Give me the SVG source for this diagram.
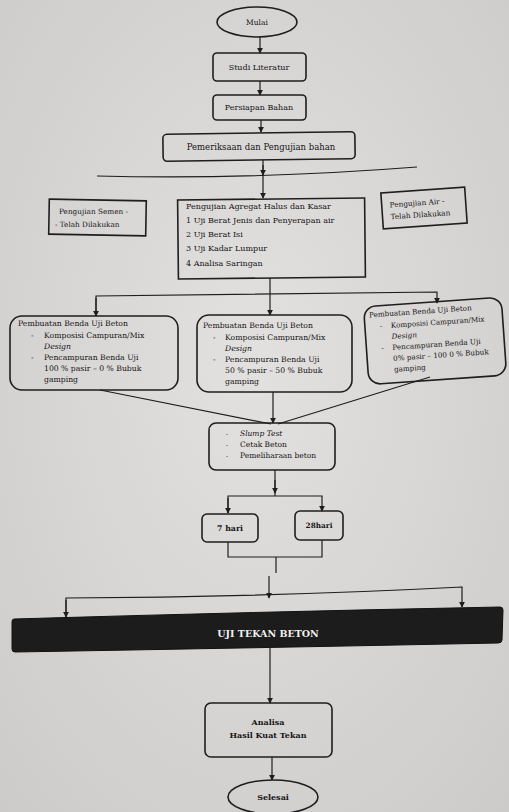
<svg xmlns="http://www.w3.org/2000/svg" width="509" height="812" viewBox="0 0 509 812">
<defs>
<marker id="ah" viewBox="0 0 8 8" refX="7" refY="4" markerWidth="6" markerHeight="6" orient="auto" markerUnits="userSpaceOnUse"><path d="M0,0 L8,4 L0,8 Z" fill="#1e1e1e"/></marker>
<radialGradient id="bg" cx="0.5" cy="0.45" r="0.75"><stop offset="0" stop-color="#e3e1e0"/><stop offset="1" stop-color="#cdcaca"/></radialGradient>
</defs>
<style>
.b{fill:none;stroke:#1e1e1e;stroke-width:1.6}
.c{fill:none;stroke:#1e1e1e;stroke-width:1.2}
.t{font-family:"DejaVu Serif","Liberation Serif",serif;font-size:7.5px;fill:#151515}
.m{text-anchor:middle}
.k{font-weight:bold}
.i{font-style:italic}
.s{font-size:7.7px}
.r{font-size:7.2px}
.g{font-size:8px}
</style>
<rect width="509" height="812" fill="url(#bg)"/>

<g id="connectors">
<path class="c" d="M260,37 V53" marker-end="url(#ah)"/>
<path class="c" d="M260,81 V95" marker-end="url(#ah)"/>
<path class="c" d="M261,120 V132" marker-end="url(#ah)"/>
<path class="c" d="M263,160 V198" marker-end="url(#ah)"/>
<path class="c" d="M263,165 V175" marker-end="url(#ah)"/>
<path class="c" d="M97,176 Q250,180 417,167"/>
<path class="c" d="M270,278 V294"/>
<path class="c" d="M96,316 V296 Q270,294 437,292 V303" marker-end="url(#ah)"/>
<path class="c" d="M96,298 V316" marker-end="url(#ah)"/>
<path class="c" d="M270,294 V315" marker-end="url(#ah)"/>
<path class="c" d="M100,390 L271,424"/>
<path class="c" d="M430,377 L278,424"/>
<path class="c" d="M273,392 V423" marker-end="url(#ah)"/>
<path class="c" d="M275,470 V496"/>
<path class="c" d="M275,480 V493" marker-end="url(#ah)"/>
<path class="c" d="M228,513 V496 H322 V511" marker-end="url(#ah)"/>
<path class="c" d="M228,498 V513" marker-end="url(#ah)"/>
<path class="c" d="M228,542 V557 H322 V540"/>
<path class="c" d="M276,557 V573"/>
<path class="c" d="M269,576 V598" marker-end="url(#ah)"/>
<path class="c" d="M66,617 V598 Q270,597 462,587 V607" marker-end="url(#ah)"/>
<path class="c" d="M66,600 V617" marker-end="url(#ah)"/>
<path class="c" d="M270,648 V703" marker-end="url(#ah)"/>
<path class="c" d="M272,757 V780" marker-end="url(#ah)"/>
</g>

<g id="mulai">
<ellipse class="b" cx="257" cy="22" rx="40" ry="15"/>
<text class="t m" x="257" y="25">Mulai</text>
</g>
<g id="studi">
<rect class="b" x="213" y="53" width="93" height="28" rx="4"/>
<text class="t m g" x="259" y="70">Studi Literatur</text>
</g>
<g id="persiapan">
<rect class="b" x="213" y="95" width="93" height="25" rx="4"/>
<text class="t m g" x="259" y="110">Persiapan Bahan</text>
</g>
<g id="pemeriksaan">
<rect class="b" x="163" y="133" width="192" height="27" rx="4" transform="rotate(-0.8 259 146)"/>
<text class="t m" x="261" y="150" style="font-size:8.5px">Pemeriksaan dan Pengujian bahan</text>
</g>
<g id="semen">
<rect class="b" x="49" y="200" width="97" height="35" transform="rotate(1 97 217)"/>
<text class="t" x="59" y="214" style="font-size:7.3px">Pengujian Semen -</text>
<text class="t" x="55" y="227" style="font-size:7.3px">- Telah Dilakukan</text>
</g>
<g id="agregat">
<rect class="b" x="178" y="199" width="187" height="79" transform="rotate(-0.6 271 238)"/>
<text class="t g" x="186" y="209">Pengujian Agregat Halus dan Kasar</text>
<text class="t g" x="186" y="223">1  Uji Berat Jenis dan Penyerapan air</text>
<text class="t g" x="186" y="237">2  Uji Berat Isi</text>
<text class="t g" x="186" y="251">3  Uji Kadar Lumpur</text>
<text class="t g" x="186" y="266">4  Analisa Saringan</text>
</g>
<g id="air" transform="rotate(-4 424 208)">
<rect class="b" x="382" y="190" width="84" height="36"/>
<text class="t" x="390" y="205" style="font-size:7.3px">Pengujian Air -</text>
<text class="t" x="390" y="217" style="font-size:7.3px">Telah Dilakukan</text>
</g>
<g id="benda1">
<rect class="b" x="10" y="316" width="168" height="74" rx="12"/>
<text class="t s" x="18" y="326">Pembuatan Benda Uji Beton</text>
<text class="t s" x="31" y="338">-</text>
<text class="t s" x="44" y="338">Komposisi Campuran/Mix</text>
<text class="t s i" x="44" y="349">Design</text>
<text class="t s" x="31" y="360">-</text>
<text class="t s" x="44" y="360">Pencampuran Benda Uji</text>
<text class="t s" x="44" y="371">100 % pasir – 0 % Bubuk</text>
<text class="t s" x="44" y="382">gamping</text>
</g>
<g id="benda2">
<rect class="b" x="197" y="315" width="155" height="77" rx="12"/>
<text class="t s" x="203" y="328">Pembuatan Benda Uji Beton</text>
<text class="t s" x="213" y="340">-</text>
<text class="t s" x="225" y="340">Komposisi Campuran/Mix</text>
<text class="t s i" x="225" y="351">Design</text>
<text class="t s" x="213" y="362">-</text>
<text class="t s" x="225" y="362">Pencampuran Benda Uji</text>
<text class="t s" x="225" y="373">50 % pasir – 50 % Bubuk</text>
<text class="t s" x="225" y="384">gamping</text>
</g>
<g id="benda3" transform="rotate(-4 434 340)">
<rect class="b" x="366" y="302" width="138" height="78" rx="12"/>
<text class="t r" x="371" y="313">Pembuatan Benda Uji Beton</text>
<text class="t r" x="381" y="325">-</text>
<text class="t r" x="392" y="325">Komposisi Campuran/Mix</text>
<text class="t r i" x="392" y="336">Design</text>
<text class="t r" x="381" y="347">-</text>
<text class="t r" x="392" y="347">Pencampuran Benda Uji</text>
<text class="t r" x="392" y="358">0% pasir – 100 0 % Bubuk</text>
<text class="t r" x="392" y="369">gamping</text>
</g>
<g id="slump">
<rect class="b" x="209" y="423" width="126" height="47" rx="7"/>
<text class="t" x="226" y="436" style="font-size:6px">-</text>
<text class="t i" x="240" y="436">Slump Test</text>
<text class="t" x="226" y="447" style="font-size:6px">-</text>
<text class="t" x="240" y="447">Cetak Beton</text>
<text class="t" x="226" y="458" style="font-size:6px">-</text>
<text class="t" x="240" y="458">Pemeliharaan beton</text>
</g>
<g id="hari7">
<rect class="b" x="202" y="514" width="56" height="28" rx="5"/>
<text class="t m k" x="230" y="531" style="font-size:7.8px">7 hari</text>
</g>
<g id="hari28">
<rect class="b" x="295" y="511" width="48" height="29" rx="5"/>
<text class="t m k" x="319" y="528" style="font-size:7.3px">28hari</text>
</g>
<g id="ujitekan">
<path d="M14,619 Q250,612 500,607 Q503,607 503,610 L502,640 Q502,643 498,643 Q250,648 15,652 Q12,652 12,649 L12,622 Q12,619 14,619 Z" fill="#1c1c1c" stroke="#111" stroke-width="1"/>
<text class="t m k" x="268" y="637" style="font-size:9.5px;fill:#f0f0f0">UJI TEKAN  BETON</text>
</g>
<g id="analisa">
<rect class="b" x="205" y="703" width="127" height="54" rx="6"/>
<text class="t m k" x="268" y="725" style="font-size:8px">Analisa</text>
<text class="t m k" x="268" y="738" style="font-size:8px">Hasil Kuat Tekan</text>
</g>
<g id="selesai">
<ellipse class="b" cx="273" cy="797" rx="45" ry="17"/>
<text class="t m k" x="273" y="800" style="font-size:8px">Selesai</text>
</g>
</svg>
